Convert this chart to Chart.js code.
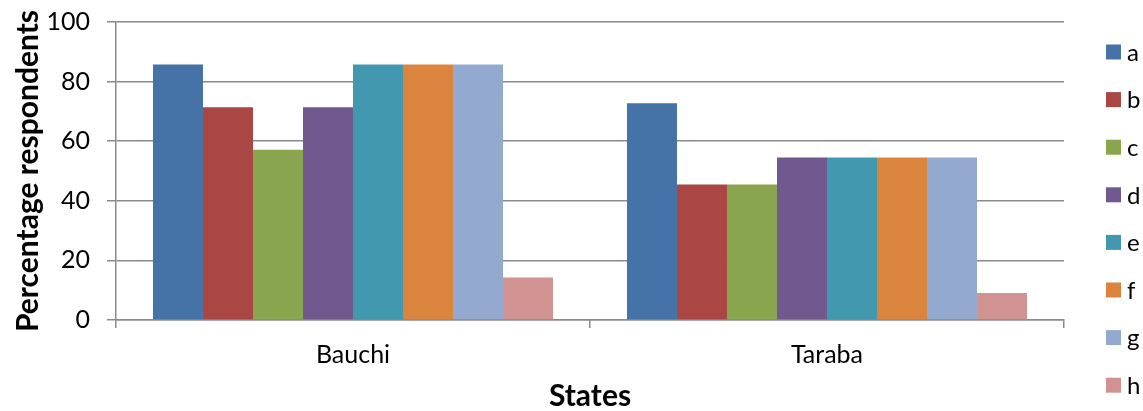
<!DOCTYPE html>
<html>
<head>
<meta charset="utf-8">
<script src="https://cdn.jsdelivr.net/npm/chart.js@4"></script>
<style>
  html, body { margin: 0; padding: 0; background: #fff; }
  canvas { display: block; }
</style>
</head>
<body>
<canvas id="stateChart" width="1143" height="411"></canvas>
<script>
const states = ["Bauchi", "Taraba"];
const seriesNames = ["a", "b", "c", "d", "e", "f", "g", "h"];
const seriesColors = ["#4572A7", "#AA4643", "#89A54E", "#71588F", "#4198AF", "#DB843D", "#93A9CF", "#D19392"];
const valuesA = [85.7, 72.7];
const valuesB = [71.4, 45.5];
const valuesC = [57.1, 45.5];
const valuesD = [71.4, 54.5];
const valuesE = [85.7, 54.5];
const valuesF = [85.7, 54.5];
const valuesG = [85.7, 54.5];
const valuesH = [14.3, 9.1];
const yTicks = [0, 20, 40, 60, 80, 100];

const allValues = [valuesA, valuesB, valuesC, valuesD, valuesE, valuesF, valuesG, valuesH];
const gridColor = "#8a8a8a";
const font = "Lato";

// legend drawn on the right, one item per series
const sideLegend = {
    id: "sideLegend",
    afterDraw(chart) {
        const ctx = chart.ctx;
        ctx.save();
        ctx.font = "24px " + font;
        ctx.textBaseline = "middle";
        chart.data.datasets.forEach(function(ds, i) {
            const y = 52 + i * 47.6;
            ctx.fillStyle = ds.backgroundColor;
            ctx.fillRect(1106, y - 7.5, 15, 15);
            ctx.fillStyle = "#000";
            ctx.fillText(ds.label, 1127, y + 1);
        });
        ctx.restore();
    }
};

const ctx = document.getElementById("stateChart").getContext("2d");
new Chart(ctx, {
    type: "bar",
    data: {
        labels: states,
        datasets: seriesNames.map(function(name, i) {
            return {
                label: name,
                data: allValues[i],
                backgroundColor: seriesColors[i],
                borderWidth: 0
            };
        })
    },
    options: {
        responsive: false,
        devicePixelRatio: 1,
        animation: false,
        layout: { padding: { top: 22, right: 79, left: 0, bottom: 0 } },
        datasets: { bar: { categoryPercentage: 0.844, barPercentage: 1 } },
        plugins: {
            legend: { display: false },
            tooltip: { enabled: false }
        },
        scales: {
            x: {
                grid: { offset: true, drawOnChartArea: false, color: gridColor, lineWidth: 1.5, tickLength: 8 },
                border: { color: gridColor, width: 1.5 },
                ticks: { color: "#000", padding: 12, font: { family: font, size: 25 } },
                title: {
                    display: true, text: "States", color: "#000",
                    font: { family: font, size: 30, weight: "bold", lineHeight: 1 },
                    padding: { top: 0, bottom: 0 }
                },
                afterFit: function(scale) { scale.height = 91; scale.paddingLeft = 0; scale.paddingRight = 0; }
            },
            y: {
                min: 0, max: 100,
                afterBuildTicks: function(scale) { scale.ticks = yTicks.map(function(v) { return { value: v }; }); },
                grid: { color: gridColor, lineWidth: 1.5, tickLength: 9 },
                border: { color: gridColor, width: 1.5 },
                ticks: { color: "#000", padding: 17, font: { family: font, size: 25 } },
                title: {
                    display: true, text: "Percentage respondents", color: "#000",
                    font: { family: font, size: 30, weight: "bold", lineHeight: 1 },
                    padding: { top: 13, bottom: 0 }
                },
                afterFit: function(scale) { scale.width = 116; scale.paddingTop = 0; scale.paddingBottom = 0; }
            }
        }
    },
    plugins: [sideLegend]
});
</script>
</body>
</html>
